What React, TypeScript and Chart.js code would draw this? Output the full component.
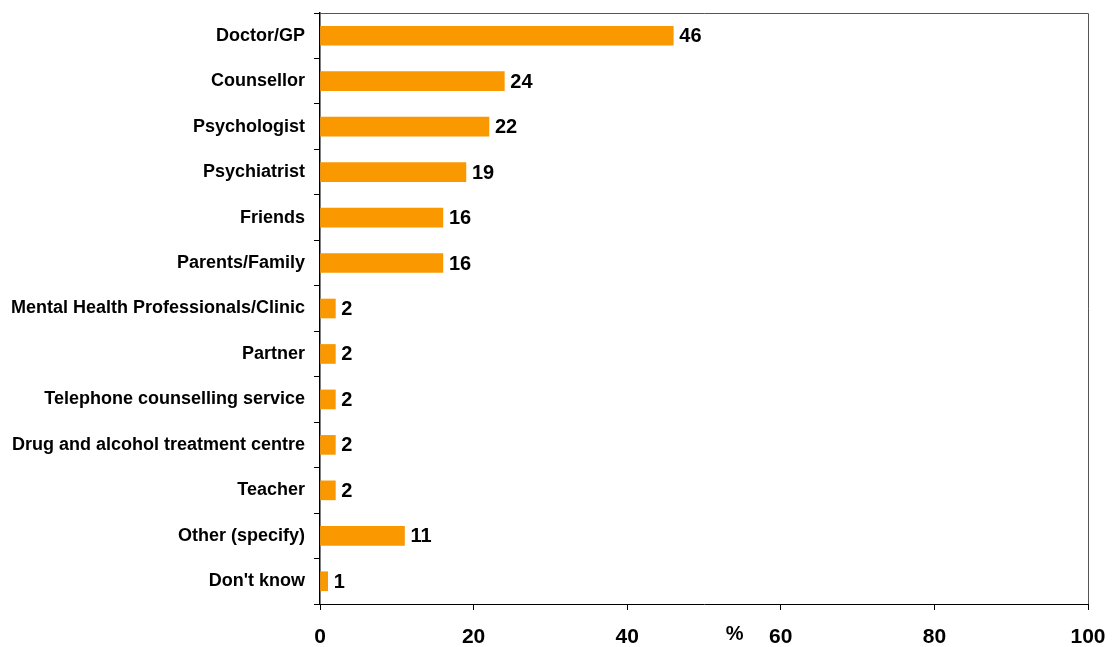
import React, { useEffect, useRef } from "react";
import { Chart, registerables } from "chart.js";

Chart.register(...registerables);

const categories = [
  "Doctor/GP",
  "Counsellor",
  "Psychologist",
  "Psychiatrist",
  "Friends",
  "Parents/Family",
  "Mental Health Professionals/Clinic",
  "Partner",
  "Telephone counselling service",
  "Drug and alcohol treatment centre",
  "Teacher",
  "Other (specify)",
  "Don't know",
];
const values = [46, 24, 22, 19, 16, 16, 2, 2, 2, 2, 2, 11, 1];
const xTicks = [0, 20, 40, 60, 80, 100];
const axisTitle = "%";

const FONT = "'Liberation Sans', Arial, Helvetica, sans-serif";

export default function App() {
  const ref = useRef<HTMLCanvasElement | null>(null);

  useEffect(() => {
    document.body.style.margin = "0";
    const canvas = ref.current;
    if (!canvas) return;

    const frame = {
      id: "frame",
      beforeDatasetsDraw(chart: any) {
        const { ctx, chartArea } = chart;
        ctx.save();
        ctx.strokeStyle = "#555555";
        ctx.lineWidth = 1;
        ctx.beginPath();
        ctx.moveTo(chartArea.left, chartArea.top + 0.5);
        ctx.lineTo(chartArea.right + 0.5, chartArea.top + 0.5);
        ctx.lineTo(chartArea.right + 0.5, chartArea.bottom);
        ctx.stroke();
        ctx.restore();
      },
    };

    const labels = {
      id: "valueLabels",
      afterDatasetsDraw(chart: any) {
        const { ctx } = chart;
        const meta = chart.getDatasetMeta(0);
        ctx.save();
        ctx.fillStyle = "#000";
        ctx.font = `bold 20px ${FONT}`;
        ctx.textAlign = "left";
        ctx.textBaseline = "middle";
        meta.data.forEach((bar: any, i: number) => {
          ctx.fillText(String(values[i]), bar.x + 6, bar.y + 1);
        });
        const xs = chart.scales.x;
        ctx.font = `bold 20px ${FONT}`;
        ctx.textAlign = "center";
        ctx.fillText(axisTitle, xs.getPixelForValue(54), chart.chartArea.bottom + 30);
        ctx.restore();
      },
    };

    const chart = new Chart(canvas, {
      type: "bar",
      data: {
        labels: categories,
        datasets: [
          {
            data: values,
            backgroundColor: "rgb(250,152,0)",
            borderWidth: 0,
            barThickness: 19,
          },
        ],
      },
      options: {
        indexAxis: "y",
        animation: false,
        responsive: false,
        maintainAspectRatio: false,
        layout: { padding: { top: 13, right: 26, left: 0, bottom: 0 } },
        plugins: {
          legend: { display: false },
          tooltip: { enabled: false },
          title: { display: false },
        },
        scales: {
          x: {
            type: "linear",
            min: 0,
            max: 100,
            afterBuildTicks: (s: any) => {
              s.ticks = xTicks.map((v) => ({ value: v }));
            },
            afterFit: (s: any) => {
              s.height = 43;
              s.paddingLeft = 0;
              s.paddingRight = 0;
            },
            grid: {
              drawOnChartArea: false,
              drawTicks: true,
              tickLength: 6,
              color: "#000",
            },
            border: { color: "#000", width: 1 },
            ticks: {
              color: "#000",
              padding: 15,
              font: { family: FONT, size: 21, weight: "bold" },
              maxRotation: 0,
            },
          },
          y: {
            type: "category",
            afterFit: (s: any) => {
              s.width = 320;
              s.paddingTop = 0;
              s.paddingBottom = 0;
            },
            grid: {
              drawOnChartArea: false,
              drawTicks: true,
              tickLength: 6,
              offset: true,
              color: "#000",
            },
            border: { color: "#000", width: 1.5 },
            ticks: {
              color: "#000",
              padding: 9,
              autoSkip: false,
              font: { family: FONT, size: 18, weight: "bold" },
            },
          },
        },
      },
      plugins: [frame, labels],
    } as any);

    return () => chart.destroy();
  }, []);

  return <canvas ref={ref} width={1114} height={647} style={{ display: "block" }} />;
}
